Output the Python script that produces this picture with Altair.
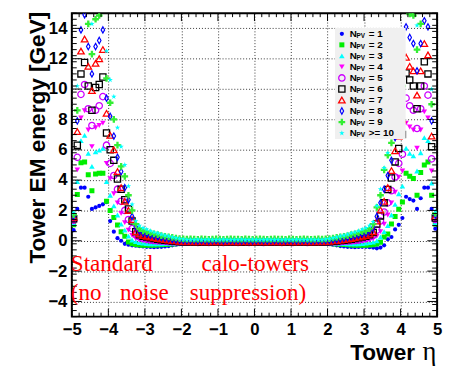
import altair as alt
import numpy as np
import pandas as pd

# ---------------- data ----------------
ETA_FIRST = -4.95   # centre of first eta bin
ETA_STEP = 0.1      # bin width

N1 = ([0.70, 2.10, 3.50, 3.50, 2.90, 2.10, 2.20, 2.30, 2.40, 2.55, 1.30, 0.60, 0.17, 0.00, -0.20, -0.26, -0.30, -0.33, -0.35, -0.38, -0.40, -0.41, -0.42, -0.41, -0.40]
      + [-0.38, -0.35, -0.30, -0.26, -0.22, -0.20,
         -0.17, -0.16, -0.17, -0.18, -0.16, -0.17, -0.18, -0.17, -0.16, -0.17,
         -0.17, -0.18, -0.16, -0.17, -0.18, -0.17, -0.16, -0.17, -0.18, -0.17,
         -0.17, -0.16, -0.17, -0.18, -0.17, -0.16, -0.17, -0.18, -0.17, -0.16,
         -0.17, -0.17, -0.18, -0.16, -0.17, -0.18, -0.17, -0.16,
         -0.20, -0.22, -0.26, -0.30, -0.35, -0.38]
      + [-0.40, -0.41, -0.42, -0.41, -0.40, -0.40, -0.42, -0.45, -0.50, -0.45, -0.30, 0.10, 0.25, 0.75, 1.05, 1.50, 2.90, 2.75, 2.65, 2.10, 2.80, 3.50, 3.50, 2.10, 0.80])

N2 = ([1.05, 3.05, 5.15, 5.20, 4.35, 3.30, 4.40, 4.45, 4.45, 2.60, 2.00, 1.54, 1.04, 0.60, 0.30, -0.08, -0.20, -0.25, -0.28, -0.30, -0.30, -0.30, -0.30, -0.28, -0.27]
      + [-0.25, -0.23, -0.21, -0.19, -0.17, -0.16,
         -0.15, -0.14, -0.15, -0.16, -0.14, -0.15, -0.16, -0.15, -0.14, -0.15,
         -0.15, -0.16, -0.14, -0.15, -0.16, -0.15, -0.14, -0.15, -0.16, -0.15,
         -0.15, -0.14, -0.15, -0.16, -0.15, -0.14, -0.15, -0.16, -0.15, -0.14,
         -0.15, -0.15, -0.16, -0.14, -0.15, -0.16, -0.15, -0.14,
         -0.16, -0.17, -0.19, -0.21, -0.23, -0.25]
      + [-0.27, -0.28, -0.30, -0.30, -0.30, -0.30, -0.28, -0.27, -0.22, -0.10, 0.25, 0.45, 1.10, 1.60, 2.08, 2.55, 4.45, 4.25, 4.10, 3.00, 4.50, 5.00, 5.20, 3.00, 1.10])

N3 = ([1.15, 3.90, 6.60, 6.95, 5.76, 4.90, 5.86, 5.97, 6.10, 3.90, 3.00, 2.30, 1.70, 1.10, 0.70, 0.30, 0.05, -0.05, -0.12, -0.15, -0.18, -0.20, -0.20, -0.20, -0.20]
      + [-0.19, -0.18, -0.17, -0.16, -0.15, -0.14,
         -0.13, -0.12, -0.14, -0.13, -0.12, -0.13, -0.14, -0.12, -0.13, -0.13,
         -0.14, -0.12, -0.13, -0.12, -0.14, -0.13, -0.13, -0.12, -0.14, -0.13,
         -0.12, -0.13, -0.14, -0.13, -0.12, -0.13, -0.13, -0.14, -0.12, -0.13,
         -0.14, -0.13, -0.12, -0.13, -0.14, -0.12, -0.13, -0.13,
         -0.14, -0.15, -0.16, -0.17, -0.18, -0.19]
      + [-0.20, -0.20, -0.20, -0.20, -0.18, -0.15, -0.12, -0.08, 0.00, 0.25, 0.60, 1.00, 1.70, 2.40, 3.10, 3.60, 6.10, 5.76, 5.60, 4.60, 5.80, 6.80, 6.60, 3.80, 1.20])

N4 = ([1.25, 4.67, 8.10, 8.57, 7.30, 6.20, 7.45, 7.60, 7.75, 5.10, 4.10, 3.10, 2.50, 1.80, 1.20, 0.70, 0.35, 0.15, 0.05, 0.00, -0.05, -0.08, -0.10, -0.12, -0.12]
      + [-0.13, -0.13, -0.13, -0.13, -0.12, -0.12,
         -0.11, -0.12, -0.10, -0.11, -0.12, -0.11, -0.10, -0.11, -0.12, -0.10,
         -0.11, -0.11, -0.12, -0.10, -0.11, -0.12, -0.11, -0.10, -0.11, -0.12,
         -0.10, -0.11, -0.11, -0.12, -0.10, -0.11, -0.12, -0.11, -0.10, -0.11,
         -0.12, -0.11, -0.10, -0.11, -0.12, -0.10, -0.11, -0.11,
         -0.12, -0.12, -0.13, -0.13, -0.13, -0.13]
      + [-0.12, -0.12, -0.10, -0.08, -0.05, 0.00, 0.05, 0.12, 0.30, 0.60, 1.10, 1.70, 2.50, 3.20, 4.20, 4.60, 7.75, 7.50, 7.30, 6.10, 7.30, 8.50, 8.10, 4.60, 1.30])

N5 = ([1.35, 5.50, 9.65, 10.30, 8.70, 7.60, 8.60, 8.90, 9.50, 6.30, 5.10, 4.30, 3.40, 2.60, 2.00, 1.40, 0.80, 0.40, 0.25, 0.15, 0.10, 0.05, 0.02, 0.00, -0.02]
      + [-0.04, -0.06, -0.07, -0.08, -0.09, -0.10,
         -0.10, -0.09, -0.10, -0.11, -0.09, -0.10, -0.11, -0.10, -0.09, -0.10,
         -0.11, -0.09, -0.10, -0.10, -0.11, -0.09, -0.10, -0.11, -0.10, -0.09,
         -0.10, -0.11, -0.10, -0.09, -0.10, -0.10, -0.11, -0.09, -0.10, -0.11,
         -0.10, -0.09, -0.10, -0.11, -0.10, -0.09, -0.10, -0.10,
         -0.10, -0.09, -0.08, -0.07, -0.06, -0.04]
      + [-0.02, 0.00, 0.02, 0.05, 0.10, 0.15, 0.25, 0.35, 0.70, 1.30, 1.90, 2.50, 3.30, 4.20, 5.10, 5.70, 9.40, 8.90, 8.60, 7.40, 8.70, 10.20, 9.60, 5.40, 1.40])

N6 = ([1.45, 6.30, 11.00, 11.75, 10.20, 8.60, 10.10, 10.30, 10.80, 7.10, 6.00, 5.30, 4.07, 3.40, 2.70, 2.10, 1.30, 0.60, 0.40, 0.30, 0.25, 0.20, 0.15, 0.10, 0.06]
      + [0.03, 0.01, -0.02, -0.04, -0.06, -0.07,
         -0.08, -0.07, -0.08, -0.09, -0.07, -0.08, -0.09, -0.08, -0.07, -0.08,
         -0.09, -0.08, -0.07, -0.08, -0.08, -0.09, -0.07, -0.08, -0.09, -0.08,
         -0.07, -0.08, -0.09, -0.08, -0.07, -0.08, -0.08, -0.09, -0.07, -0.08,
         -0.09, -0.08, -0.07, -0.08, -0.09, -0.08, -0.07, -0.08,
         -0.07, -0.06, -0.04, -0.02, 0.01, 0.03]
      + [0.06, 0.10, 0.15, 0.20, 0.25, 0.30, 0.40, 0.55, 1.10, 1.64, 2.50, 3.38, 4.14, 5.20, 6.08, 7.00, 11.06, 10.60, 10.20, 8.70, 10.20, 11.80, 11.00, 6.20, 1.50])

N7 = ([1.55, 7.20, 12.50, 13.30, 11.50, 9.90, 11.70, 12.00, 12.60, 8.40, 6.95, 6.00, 4.56, 3.50, 2.60, 2.00, 1.40, 0.60, 0.45, 0.35, 0.30, 0.25, 0.20, 0.15, 0.11]
      + [0.08, 0.05, 0.02, 0.00, -0.03, -0.05,
         -0.06, -0.05, -0.06, -0.07, -0.05, -0.06, -0.07, -0.06, -0.05, -0.06,
         -0.07, -0.06, -0.05, -0.06, -0.06, -0.07, -0.05, -0.06, -0.07, -0.06,
         -0.05, -0.06, -0.07, -0.06, -0.05, -0.06, -0.06, -0.07, -0.05, -0.06,
         -0.07, -0.06, -0.05, -0.06, -0.07, -0.06, -0.05, -0.06,
         -0.05, -0.03, 0.00, 0.02, 0.05, 0.08]
      + [0.11, 0.15, 0.20, 0.25, 0.30, 0.35, 0.45, 0.60, 1.30, 2.03, 2.60, 3.50, 4.63, 5.93, 6.90, 8.00, 12.10, 11.50, 11.20, 9.60, 11.20, 13.00, 12.25, 6.90, 1.60])

N8 = ([1.62, 7.90, 13.90, 14.90, 12.80, 11.00, 12.80, 13.20, 13.90, 9.40, 8.20, 6.90, 5.50, 4.56, 3.50, 2.70, 1.60, 0.90, 0.65, 0.50, 0.45, 0.38, 0.32, 0.27, 0.22]
      + [0.18, 0.14, 0.10, 0.07, 0.04, 0.02,
         0.01, 0.02, 0.01, 0.00, 0.02, 0.01, 0.00, 0.01, 0.02, 0.01,
         0.00, 0.01, 0.02, 0.01, 0.01, 0.00, 0.02, 0.01, 0.00, 0.01,
         0.02, 0.01, 0.00, 0.01, 0.02, 0.01, 0.01, 0.00, 0.02, 0.01,
         0.00, 0.01, 0.02, 0.01, 0.00, 0.01, 0.02, 0.01,
         0.02, 0.04, 0.07, 0.10, 0.14, 0.18]
      + [0.22, 0.27, 0.32, 0.38, 0.45, 0.50, 0.65, 0.85, 1.60, 2.50, 3.40, 4.30, 5.30, 6.80, 8.00, 9.00, 14.10, 13.40, 13.00, 11.20, 13.00, 14.50, 14.10, 7.90, 1.70])

N9 = ([1.72, 8.60, 15.50, 16.50, 14.30, 12.30, 14.60, 14.85, 15.30, 10.70, 9.10, 8.00, 6.30, 4.90, 4.24, 3.00, 2.00, 1.10, 0.80, 0.65, 0.60, 0.52, 0.45, 0.40, 0.34]
      + [0.30, 0.26, 0.22, 0.18, 0.14, 0.12,
         0.11, 0.12, 0.11, 0.10, 0.12, 0.11, 0.10, 0.11, 0.12, 0.11,
         0.10, 0.11, 0.12, 0.11, 0.11, 0.10, 0.12, 0.11, 0.10, 0.11,
         0.12, 0.11, 0.10, 0.11, 0.12, 0.11, 0.11, 0.10, 0.12, 0.11,
         0.10, 0.11, 0.12, 0.11, 0.10, 0.11, 0.12, 0.11,
         0.12, 0.14, 0.18, 0.22, 0.26, 0.30]
      + [0.34, 0.40, 0.45, 0.52, 0.60, 0.65, 0.80, 1.10, 2.20, 3.00, 4.67, 5.65, 6.45, 7.60, 9.30, 10.20, 15.30, 14.95, 14.85, 12.60, 14.30, 16.40, 15.40, 9.00, 1.80])

N10 = ([1.85, 10.20, 17.00, 18.00, 15.80, 14.30, 16.00, 16.30, 16.80, 12.50, 10.60, 9.50, 7.45, 6.20, 5.00, 3.60, 2.40, 1.30, 1.00, 0.85, 0.75, 0.65, 0.56, 0.50, 0.42]
       + [0.36, 0.30, 0.24, 0.19, 0.14, 0.10,
          0.08, 0.07, 0.08, 0.09, 0.07, 0.08, 0.09, 0.08, 0.07, 0.08,
          0.09, 0.08, 0.07, 0.08, 0.08, 0.09, 0.07, 0.08, 0.09, 0.08,
          0.07, 0.08, 0.09, 0.08, 0.07, 0.08, 0.08, 0.09, 0.07, 0.08,
          0.09, 0.08, 0.07, 0.08, 0.09, 0.08, 0.07, 0.08,
          0.10, 0.14, 0.19, 0.24, 0.30, 0.36]
       + [0.42, 0.50, 0.56, 0.65, 0.75, 0.85, 1.00, 1.25, 2.30, 3.40, 4.80, 5.80, 7.00, 8.60, 10.20, 11.80, 16.80, 16.30, 16.00, 14.20, 15.80, 18.00, 17.00, 10.00, 1.95])

SERIES = [N1, N2, N3, N4, N5, N6, N7, N8, N9, N10]
LEGEND_LABELS = ["= 1", "= 2", "= 3", "= 4", "= 5", "= 6", "= 7", "= 8", "= 9", ">= 10"]

X_LABELS = [-5, -4, -3, -2, -1, 0, 1, 2, 3, 4, 5]
Y_LABELS = [-4, -2, 0, 2, 4, 6, 8, 10, 12, 14]

for s in SERIES:
    assert len(s) == 100, len(s)

# ---------------- styles / layout ----------------
W, H = 372, 309
STAR = "M0,-1L0.2245,-0.309L0.951,-0.309L0.363,0.118L0.588,0.809L0,0.382L-0.588,0.809L-0.363,0.118L-0.951,-0.309L-0.2245,-0.309Z"
DIAMOND = "M0,-1L0.55,0L0,1L-0.55,0Z"
FATCROSS = "M-0.35,-1H0.35V-0.35H1V0.35H0.35V1H-0.35V0.35H-1V-0.35H-0.35Z"

STYLES = [
    dict(shape="circle", filled=True, color="#0000ff", size=18),
    dict(shape="square", filled=True, color="#00ee00", size=26),
    dict(shape="triangle-up", filled=True, color="#00ffff", size=32),
    dict(shape="triangle-down", filled=True, color="#ff00ff", size=32),
    dict(shape="circle", filled=False, color="#cc00ff", size=42, strokeWidth=1.3),
    dict(shape="square", filled=False, color="#000000", size=40, strokeWidth=1.3),
    dict(shape="triangle-up", filled=False, color="#ff0000", size=44, strokeWidth=1.3),
    dict(shape=DIAMOND, filled=False, color="#0000ff", size=42, strokeWidth=1.2),
    dict(shape=FATCROSS, filled=True, color="#33ee33", size=46),
    dict(shape=STAR, filled=True, color="#00ffff", size=34),
]

eta = [round(ETA_FIRST + ETA_STEP * i, 2) for i in range(100)]
rows = []
for k, vals in enumerate(SERIES, start=1):
    for e, v in zip(eta, vals):
        rows.append({"eta": e, "val": v, "s": k})
df = pd.DataFrame(rows)

xs = alt.Scale(domain=[-5, 5], nice=False, zero=False)
ys = alt.Scale(domain=[-5, 15], nice=False, zero=False)

AX = alt.Axis(values=X_LABELS, title="Tower", grid=True, gridDash=[1, 2], gridColor="black",
              gridOpacity=0.8, gridWidth=1, ticks=False, tickSize=0, domain=False,
              labelFont="Liberation Sans", labelFontWeight="bold", labelFontSize=17,
              labelColor="black", labelPadding=5, labelFlush=False, labelOverlap=False,
              titleFont="Liberation Sans", titleFontWeight="bold", titleFontSize=23,
              titleColor="black", titleX=349, titleY=44, titleAlign="right",
              titleBaseline="alphabetic", titleAngle=0)
AY = alt.Axis(values=Y_LABELS, title="Tower EM energy [GeV]", grid=True, gridDash=[1, 2],
              gridColor="black", gridOpacity=0.8, gridWidth=1, ticks=False, tickSize=0,
              domain=False, labelFont="Liberation Sans", labelFontWeight="bold",
              labelFontSize=17, labelColor="black", labelPadding=5, labelFlush=False,
              labelOverlap=False, titleFont="Liberation Sans", titleFontWeight="bold",
              titleFontSize=23, titleColor="black", titleX=-28, titleY=-2,
              titleAlign="right", titleBaseline="alphabetic", titleAngle=270)

X_ENC = alt.X("eta:Q", scale=xs, axis=AX)
Y_ENC = alt.Y("val:Q", scale=ys, axis=AY)

layers = []
for k, st in enumerate(STYLES, start=1):
    sub = df[df.s == k]
    layers.append(alt.Chart(sub).mark_point(clip=True, opacity=1, **st).encode(x=X_ENC, y=Y_ENC))

one = pd.DataFrame({"a": [0]})

# inner ticks (ROOT style) on all four sides
x_major = [float(v) for v in X_LABELS]
x_minor = [round(v, 2) for v in np.arange(-5, 5.001, 0.2) if abs(v - round(v)) > 1e-6]
y_major = [float(v) for v in range(-4, 15, 2)]
y_minor = [round(v, 2) for v in np.arange(-5, 15.001, 0.4) if abs(v / 2 - round(v / 2)) > 1e-6]

def xt(vals, length):
    d = pd.DataFrame({"t": vals})
    xe = alt.X("t:Q", scale=xs, axis=AX)
    return [
        alt.Chart(d).mark_rule(color="black", strokeWidth=1).encode(x=xe, y=alt.value(H), y2=alt.value(H - length)),
        alt.Chart(d).mark_rule(color="black", strokeWidth=1).encode(x=xe, y=alt.value(0), y2=alt.value(length)),
    ]

def yt(vals, length):
    d = pd.DataFrame({"t": vals})
    ye = alt.Y("t:Q", scale=ys, axis=AY)
    return [
        alt.Chart(d).mark_rule(color="black", strokeWidth=1).encode(y=ye, x=alt.value(0), x2=alt.value(length)),
        alt.Chart(d).mark_rule(color="black", strokeWidth=1).encode(y=ye, x=alt.value(W), x2=alt.value(W - length)),
    ]

layers += xt(x_major, 8) + xt(x_minor, 4) + yt(y_major, 10) + yt(y_minor, 5)

# legend box
layers.append(alt.Chart(one).mark_rect(color="#f0f0f0").encode(
    x=alt.value(268), x2=alt.value(340), y=alt.value(15), y2=alt.value(128)))

LEG_Y0, LEG_DY = 21, 11.23
for i, (st, lab) in enumerate(zip(STYLES, LEGEND_LABELS)):
    yy = LEG_Y0 + LEG_DY * i
    layers.append(alt.Chart(one).mark_point(opacity=1, **st).encode(x=alt.value(275), y=alt.value(yy)))
    layers.append(alt.Chart(one).mark_text(text="N", font="Liberation Sans", fontWeight="bold",
                                           fontSize=10, align="left", baseline="middle", color="black"
                                           ).encode(x=alt.value(283), y=alt.value(yy)))
    layers.append(alt.Chart(one).mark_text(text="PV", font="Liberation Sans", fontWeight="bold",
                                           fontSize=6.5, align="left", baseline="middle", color="black"
                                           ).encode(x=alt.value(290), y=alt.value(yy + 2.5)))
    layers.append(alt.Chart(one).mark_text(text=lab, font="Liberation Sans", fontWeight="bold",
                                           fontSize=10, align="left", baseline="middle", color="black"
                                           ).encode(x=alt.value(302.5), y=alt.value(yy)))

# red annotation
RED_WORDS = [("Standard", -1, 263), ("calo-towers", 132, 263),
             ("(no", -1, 292), ("noise", 49, 292), ("suppression)", 120, 292)]
for w, px, py in RED_WORDS:
    layers.append(alt.Chart(one).mark_text(text=w, font="Liberation Serif", fontSize=23.5,
                                           color="#ff0000", align="left", baseline="alphabetic"
                                           ).encode(x=alt.value(px), y=alt.value(py)))

# eta symbol of the x title
layers.append(alt.Chart(one).mark_text(text="η", font="Liberation Serif", fontSize=27,
                                       color="black", align="left", baseline="alphabetic"
                                       ).encode(x=alt.value(357), y=alt.value(353)))

chart = alt.layer(*layers).properties(
    width=W, height=H,
    padding={"left": 65, "top": 2, "right": 6, "bottom": 48},
    autosize=alt.AutoSizeParams(type="none"),
    background="white",
).configure_view(stroke="black", strokeWidth=2)

chart.save("out.html", embed_options={"renderer": "svg", "actions": False})
